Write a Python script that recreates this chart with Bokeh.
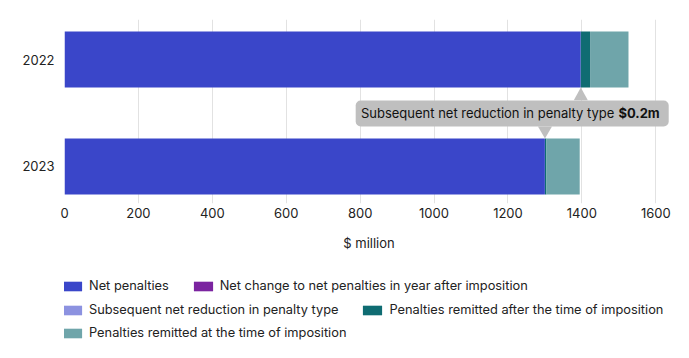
from bokeh.plotting import figure
from bokeh.models import Legend, LegendItem, ColumnDataSource, Range1d, FixedTicker
from bokeh.layouts import column
from bokeh.embed import file_html
from bokeh.resources import INLINE
from bokeh.core.properties import value

years = ["2023", "2022"]
ypos = [0, 1]
net_penalties = [1300, 1397]
net_change = [0.0, 0.0]
subsequent_reduction = [0.2, 0.2]
remitted_after = [4, 25]
remitted_at = [90, 104]

series = ["net", "change", "subseq", "after", "at"]
labels = ["Net penalties", "Net change to net penalties in year after imposition",
          "Subsequent net reduction in penalty type", "Penalties remitted after the time of imposition",
          "Penalties remitted at the time of imposition"]
colors = ["#3a46c9", "#7b24a0", "#8c92e0", "#0f6c72", "#6fa5aa"]
x_ticks = [0, 200, 400, 600, 800, 1000, 1200, 1400, 1600]
tooltip_text = "Subsequent net reduction in penalty type"
tooltip_value = "$0.2m"

FONT = "Inter"
FS = "13px"
LFS = "12.8px"
BAR_H = 0.523
W = 681

src = ColumnDataSource(dict(y=ypos, net=net_penalties, change=net_change, subseq=subsequent_reduction,
                            after=remitted_after, at=remitted_at))

p = figure(width=W, height=262, output_backend="svg", toolbar_location=None,
           x_range=Range1d(0, 1648), y_range=Range1d(-0.346, 1.374),
           min_border_left=64, min_border_right=8, min_border_top=19, min_border_bottom=59)
p.outline_line_color = None

rs = p.hbar_stack(series, y="y", height=BAR_H, color=colors, source=src, line_color=None)

# tooltip annotation
x_up = net_penalties[1] + subsequent_reduction[1]
x_dn = net_penalties[0] + subsequent_reduction[0]
y_top_ap = ypos[1] - BAR_H / 2
y_bot_ap = ypos[0] + BAR_H / 2
box_top = 0.617
box_bot = 0.374
tw = 19
p.quad(left=[788], right=[1635], top=[box_top], bottom=[box_bot], fill_color="#bfbfbf",
       line_color=None, border_radius=5)
p.patches(xs=[[x_up - tw, x_up, x_up + tw], [x_dn - tw, x_dn, x_dn + tw]],
          ys=[[box_top + 0.001, y_top_ap, box_top + 0.001], [box_bot - 0.001, y_bot_ap, box_bot - 0.001]],
          fill_color="#bfbfbf", line_color=None)
ymid = (box_top + box_bot) / 2
p.text(x=[1488], y=[ymid], text=[tooltip_text], text_align="right", text_baseline="middle",
       text_font=value(FONT), text_font_size=FS, text_color="#111111")
p.text(x=[1499], y=[ymid], text=[tooltip_value], text_align="left", text_baseline="middle",
       text_font=value(FONT), text_font_size=FS, text_color="#111111", text_font_style="bold")

# axes
p.xaxis.ticker = FixedTicker(ticks=x_ticks)
p.xaxis.axis_label = "$ million"
p.xaxis.axis_label_text_font = FONT
p.xaxis.axis_label_text_font_size = FS
p.xaxis.axis_label_text_font_style = "normal"
p.xaxis.axis_label_text_color = "#222222"
p.xaxis.axis_label_standoff = 14
p.yaxis.ticker = FixedTicker(ticks=ypos)
p.yaxis.major_label_overrides = {ypos[i]: years[i] for i in range(len(years))}
for ax in (p.xaxis, p.yaxis):
    ax.axis_line_color = None
    ax.major_tick_line_color = None
    ax.minor_tick_line_color = None
    ax.major_tick_out = 0
    ax.major_tick_in = 0
    ax.major_label_text_font = FONT
    ax.major_label_text_font_size = FS
    ax.major_label_text_color = "#222222"
p.xaxis.major_label_standoff = 4
p.yaxis.major_label_standoff = 10
p.ygrid.grid_line_color = None
p.xgrid.grid_line_color = "#e2e2e2"
p.xgrid.grid_line_width = 1

# legend figure
lf = figure(width=W, height=88, output_backend="svg", toolbar_location=None,
            x_range=Range1d(0, 1), y_range=Range1d(10, 11),
            min_border=0, x_axis_location=None, y_axis_location=None)
lf.outline_line_color = None
lf.xgrid.visible = False
lf.ygrid.visible = False
lrs = lf.hbar_stack(series, y="y", height=BAR_H, color=colors, source=src, line_color=None)

rows = [[0, 1], [2, 3], [4]]
row_y = [57, 33, 10]
for r, yy in zip(rows, row_y):
    items = [LegendItem(label=labels[i], renderers=[lrs[i]]) for i in r]
    leg = Legend(items=items, orientation="horizontal", location=(-4, yy),
                 glyph_width=24, glyph_height=12, label_standoff=5, spacing=22,
                 padding=0, margin=0, border_line_color=None, background_fill_alpha=0,
                 label_text_font=FONT, label_text_font_size=LFS, label_text_color="#222222",
                 click_policy="none")
    lf.add_layout(leg, "center")

open("out.html", "w").write(file_html(column(p, lf), INLINE))
